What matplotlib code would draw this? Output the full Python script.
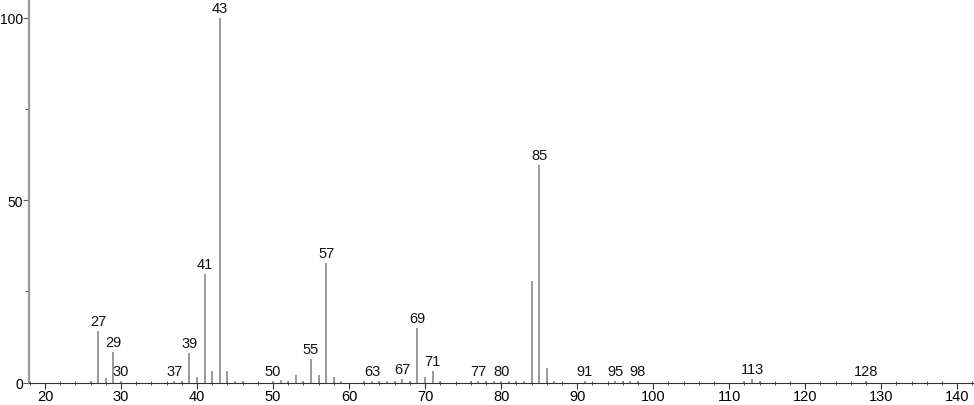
import matplotlib
matplotlib.use("Agg")
from matplotlib import pyplot as plt
from matplotlib.ticker import MultipleLocator

plt.rcParams["font.family"] = ["Liberation Sans", "DejaVu Sans"]

# m/z values and relative intensities
mz = [26, 27, 28, 29, 30, 37, 38, 39, 40, 41, 42, 43, 44, 45, 46,
      50, 51, 52, 53, 54, 55, 56, 57, 58, 59, 62, 63, 64, 65, 66, 67, 68,
      69, 70, 71, 72, 76, 77, 78, 79, 80, 81, 82, 83, 84, 85, 86, 87,
      91, 95, 96, 97, 98, 112, 113, 114, 128]
intensity = [0.5, 14.2, 1.2, 8.3, 0.5, 0.4, 0.5, 8.0, 1.4, 29.8, 3.2, 100.0, 3.2, 0.4, 0.4,
             0.4, 0.6, 0.4, 2.1, 0.5, 6.4, 2.0, 32.8, 1.4, 0.4, 0.3, 0.4, 0.3, 0.4, 0.4, 1.0, 0.4,
             15.0, 1.6, 3.1, 0.4, 0.3, 0.4, 0.4, 0.4, 0.4, 0.5, 0.4, 0.5, 27.8, 59.7, 3.9, 0.4,
             0.3, 0.4, 0.4, 0.4, 0.4, 0.4, 1.0, 0.4, 0.5]

labelled = [27, 29, 30, 37, 39, 41, 43, 50, 55, 57, 63, 67, 69, 71,
            77, 80, 85, 91, 95, 98, 113, 128]

fig = plt.figure(figsize=(9.74, 4.06), dpi=100)
ax = fig.add_axes([29 / 974, 22.5 / 406, 945 / 974, 383.5 / 406])

ax.vlines(mz, 0, intensity, color="#808080", linewidth=1.1)

peak = dict(zip(mz, intensity))
for m in labelled:
    ax.annotate(str(m), (m, peak[m]), xytext=(0, 2.2), textcoords="offset points",
                ha="center", va="bottom", fontsize=10.5, color="#111111")

ax.set_xlim(17.9, 142.2)
ax.set_ylim(0, 105.1)

ax.xaxis.set_major_locator(MultipleLocator(10))
ax.xaxis.set_minor_locator(MultipleLocator(2))
ax.yaxis.set_major_locator(MultipleLocator(50))
ax.yaxis.set_minor_locator(MultipleLocator(25))

ax.tick_params(axis="x", which="major", direction="out", length=4, width=0.8,
               color="#333333", labelsize=10.5, pad=1)
ax.tick_params(axis="x", which="minor", direction="inout", length=3, width=0.7,
               color="#555555")
ax.tick_params(axis="y", which="major", direction="out", length=4, width=0.8,
               color="#555555", labelsize=10, pad=0.3)
ax.tick_params(axis="y", which="minor", direction="out", length=3, width=0.7,
               color="#555555")

for side in ["top", "right"]:
    ax.spines[side].set_visible(False)
ax.spines["left"].set_color("#999999")
ax.spines["left"].set_linewidth(1.6)
ax.spines["bottom"].set_color("#333333")
ax.spines["bottom"].set_linewidth(0.8)

fig.savefig("out.png", dpi=100)
